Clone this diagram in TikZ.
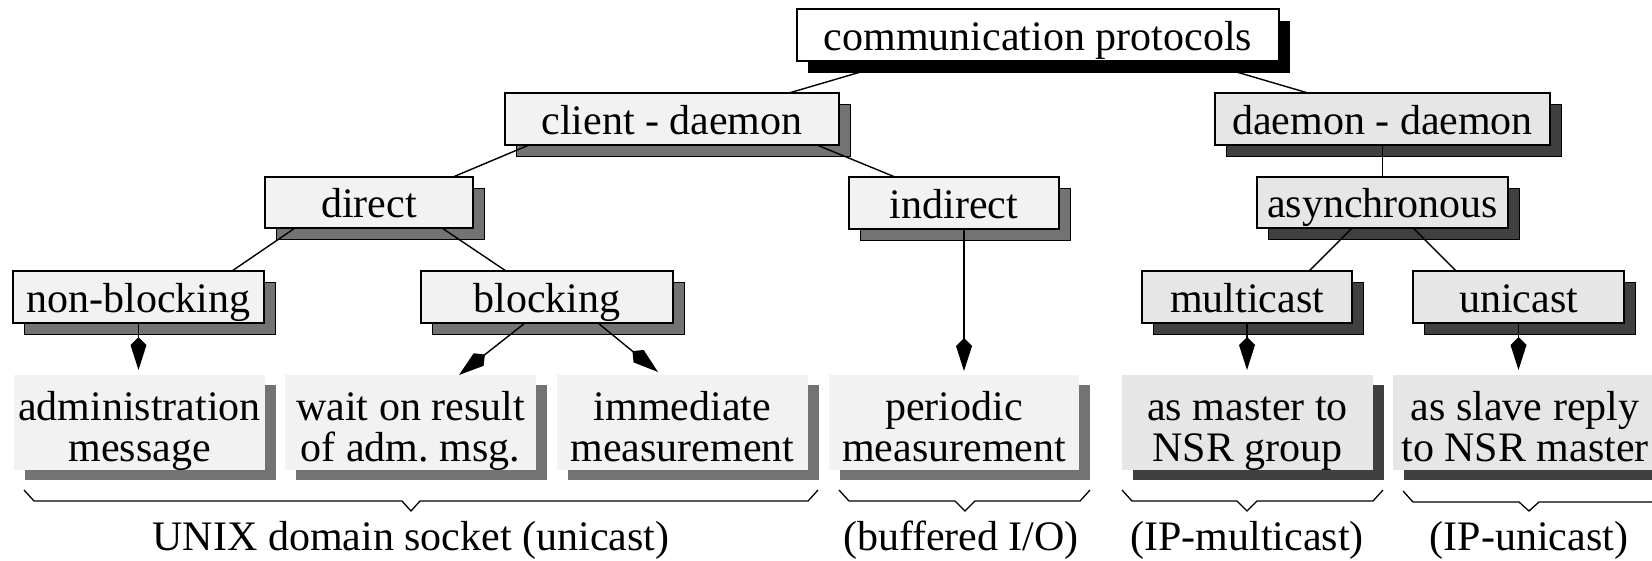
\documentclass[tikz,border=0pt]{standalone}
\usepackage{fontspec}
\setmainfont{Liberation Serif}
\usetikzlibrary{arrows.meta,shadows,calc}

\definecolor{paleA}{HTML}{F2F2F2}
\definecolor{paleB}{HTML}{E6E6E6}
\definecolor{shadeA}{HTML}{737373}
\definecolor{shadeB}{HTML}{404040}

\newcommand{\labelfont}{\fontsize{42}{41}\selectfont\frenchspacing}

\tikzset{
  box/.style={rectangle, inner sep=0pt, outer sep=0pt, anchor=north west,
    align=center, font=\labelfont},
  dims/.style 2 args={minimum width=#1pt, minimum height=#2pt},
  oneline/.style={text height=34pt, text depth=4pt},
  % two-line text: the box baseline is the last line
  twoline/.style={text height=81pt, text depth=4pt},
  framed/.style={box, oneline, draw=black, line width=1.5pt},
  root box/.style={framed, fill=white,
    general shadow={shadow xshift=11pt, shadow yshift=-12pt, fill=black}},
  local box/.style={framed, fill=paleA,
    general shadow={shadow xshift=11pt, shadow yshift=-11pt, fill=shadeA,
      draw=black, line width=0.8pt}},
  net box/.style={framed, fill=paleB,
    general shadow={shadow xshift=11pt, shadow yshift=-11pt, fill=shadeB,
      draw=black, line width=0.8pt}},
  local leaf/.style={box, twoline, fill=paleA,
    general shadow={shadow xshift=11pt, shadow yshift=-10pt, fill=shadeA}},
  net leaf/.style={box, twoline, fill=paleB,
    general shadow={shadow xshift=11pt, shadow yshift=-10pt, fill=shadeB}},
  link/.style={line width=1.4pt},
  flow/.style={link, -{Kite[length=33pt, width=16pt, inset=8pt]}},
  brace line/.style={line width=1.3pt, line join=miter},
  caption/.style={anchor=base, font=\labelfont, inner sep=0pt},
}

\begin{document}
\begin{tikzpicture}[x=1pt, y=-1pt]
\useasboundingbox (0,0) rectangle (1652,560);

% tree of protocol classes
\node[root box, dims={482}{52}] (root) at (797,9) {communication protocols};
\node[local box, dims={334}{52}] (cd) at (505,93) {client - daemon};
\node[net box, dims={335}{52}] (dd) at (1215,93) {daemon - daemon};
\node[local box, dims={208}{51}] (direct) at (265,177) {direct};
\node[local box, dims={210}{52}] (indirect) at (849,177) {indirect};
\node[net box, dims={251}{51}] (async) at (1257,177) {asynchronous};
\node[local box, dims={251}{52}] (nonblock) at (13,271) {non-blocking};
\node[local box, dims={252}{52}] (blocking) at (421,271) {blocking};
\node[net box, dims={210}{52}] (multicast) at (1142,271) {multicast};
\node[net box, dims={211}{52}] (unicast) at (1413,271) {unicast};

% message kinds
\node[local leaf, dims={251}{95}] (admin) at (14,375) {administration\\message};
\node[local leaf, dims={251}{95}] (waitres) at (285,375) {wait on result\\of adm.\ msg.};
\node[local leaf, dims={251}{95}] (immediate) at (557,375) {immediate\\measurement};
\node[local leaf, dims={250}{95}] (periodic) at (829,375) {periodic\\measurement};
\node[net leaf, dims={251}{95}] (master) at (1122,375) {as master to\\NSR group};
\node[net leaf, dims={264}{95}] (slave) at (1393,375) {as slave reply\\to NSR master};

% tree edges
\draw[link] ([xshift=-140pt]root.south) -- ([xshift=117pt]cd.north);
\draw[link] ([xshift=161pt]root.south) -- ([xshift=-74.5pt]dd.north);
\draw[link] ([xshift=-143pt]cd.south) -- ([xshift=84pt]direct.north);
\draw[link] ([xshift=145pt]cd.south) -- ([xshift=-59pt]indirect.north);
\draw[link] (dd.south) -- (async.north);
\draw[link] ([xshift=-74pt]direct.south) -- ([xshift=93.5pt]nonblock.north);
\draw[link] ([xshift=73pt]direct.south) -- ([xshift=-41pt]blocking.north);
\draw[link] ([xshift=-30.5pt]async.south) -- ([xshift=62pt]multicast.north);
\draw[link] ([xshift=30.5pt]async.south) -- ([xshift=-62.5pt]unicast.north);

% message flows
\draw[flow] (nonblock.south) -- ($(nonblock.south |- admin.north)+(0,-5)$);
\draw[flow] ([xshift=-22pt]blocking.south) -- ([xshift=48.5pt]waitres.north);
\draw[flow] ([xshift=51pt]blocking.south) -- ($(immediate.north)+(-24.5,-3)$);
\draw[flow] ([xshift=10pt]indirect.south) -- ($(periodic.north)+(10,-4)$);
\draw[flow] (multicast.south) -- ($(multicast.south |- master.north)+(0,-5)$);
\draw[flow] (unicast.south) -- ($(unicast.south |- slave.north)+(0,-5)$);

% transport braces
\draw[brace line] (24,490) -- (34,501) -- (402,501) -- (411,511) -- (420,501)
  -- (808,501) -- (818,490);
\draw[brace line] (839,490) -- (849,501) -- (955,501) -- (965,511) -- (975,501)
  -- (1080,501) -- (1090,490);
\draw[brace line] (1122,490) -- (1132,501) -- (1237,501) -- (1247,511) -- (1257,501)
  -- (1373,501) -- (1383,490);
\draw[brace line] (1403,491) -- (1413,502) -- (1519,502) -- (1529,511) -- (1539,502)
  -- (1652,502) -- (1662,491);

\node[caption] (unixsock) at (411,550) {UNIX domain socket (unicast)};
\node[caption] (buffered) at (961,550) {(buffered I/O)};
\node[caption] (ipmulti) at (1247,550) {(IP-multicast)};
\node[caption] (ipuni) at (1529,550) {(IP-unicast)};
\end{tikzpicture}
\end{document}
